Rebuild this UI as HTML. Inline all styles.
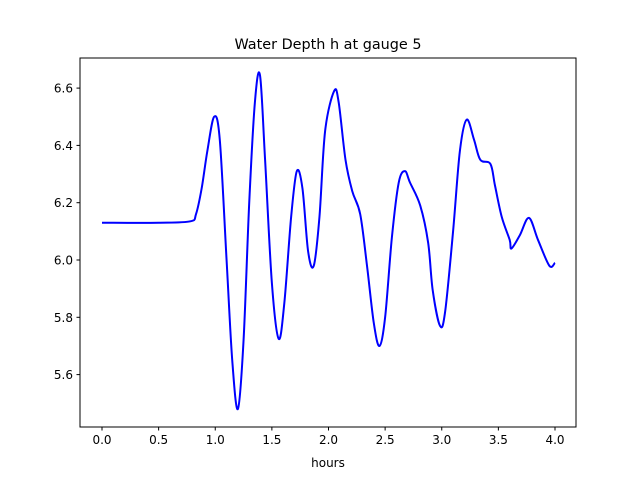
<!DOCTYPE html>
<html><head><meta charset="utf-8"><style>
body{margin:0;background:#fff;font-family:"Liberation Sans",sans-serif}
svg text{font-family:"DejaVu Sans","Liberation Sans",sans-serif}
</style></head><body>
<svg id="c" width="640" height="480">
<rect width="640" height="480" fill="#fff"/>
<text x="328" y="49" font-size="14.4" text-anchor="middle">Water Depth h at gauge 5</text>
<text x="328" y="467" font-size="12" text-anchor="middle">hours</text>
<g id="ticks"></g>
<path id="line" fill="none" stroke="#0000ff" stroke-width="2"/>
<rect x="80" y="58" width="496" height="369" fill="none" stroke="#000" stroke-width="1"/>
</svg>
<script>
const times=[0,0.5,0.78,0.83,0.88,0.93,0.99,1.04,1.1,1.15,1.2,1.25,1.3,1.35,1.395,1.44,1.5,1.56,1.61,1.67,1.72,1.77,1.82,1.87,1.92,1.97,2.05,2.09,2.15,2.21,2.28,2.34,2.4,2.45,2.5,2.56,2.62,2.675,2.72,2.81,2.88,2.92,2.985,3.03,3.1,3.16,3.22,3.285,3.34,3.43,3.47,3.53,3.6,3.615,3.69,3.77,3.85,3.95,4.0];
const depths=[6.13,6.13,6.135,6.16,6.25,6.38,6.50,6.42,6.0,5.65,5.48,5.72,6.2,6.55,6.645,6.35,5.92,5.725,5.85,6.15,6.31,6.25,6.03,5.98,6.15,6.45,6.59,6.55,6.35,6.24,6.16,5.98,5.78,5.70,5.80,6.08,6.27,6.31,6.27,6.19,6.06,5.895,5.77,5.82,6.1,6.38,6.49,6.42,6.35,6.335,6.26,6.15,6.07,6.04,6.087,6.147,6.07,5.98,5.99];
const xTicks=[0,0.5,1,1.5,2,2.5,3,3.5,4];
const yTicks=[5.6,5.8,6.0,6.2,6.4,6.6];
const X=t=>102+113.25*t, Y=v=>260-(v-6.0)*286.5;
const g=document.getElementById('ticks');const NS='http://www.w3.org/2000/svg';
function mk(tag,a){const e=document.createElementNS(NS,tag);for(const k in a)e.setAttribute(k,a[k]);g.appendChild(e);return e;}
xTicks.forEach(t=>{const l=mk('line',{x1:X(t),x2:X(t),y1:427,y2:430.5,stroke:'#000'});


const s=mk('text',{x:X(t),y:444,'font-size':12,'text-anchor':'middle'});s.textContent=t.toFixed(1);

});
yTicks.forEach(v=>{const l=mk('line',{x1:76.5,x2:80,y1:Y(v),y2:Y(v),stroke:'#000'});


const s=mk('text',{x:73,y:Y(v)+4.5,'font-size':12,'text-anchor':'end'});s.textContent=v.toFixed(1);

});
const P=times.map((t,i)=>[X(t),Y(depths[i])]);
let d='M'+P[0][0]+','+P[0][1];
for(let i=0;i<P.length-1;i++){const p0=P[Math.max(i-1,0)],p1=P[i],p2=P[i+1],p3=P[Math.min(i+2,P.length-1)];
const c1=[p1[0]+(p2[0]-p0[0])/6,p1[1]+(p2[1]-p0[1])/6],c2=[p2[0]-(p3[0]-p1[0])/6,p2[1]-(p3[1]-p1[1])/6];
d+=` C${c1[0]},${c1[1]} ${c2[0]},${c2[1]} ${p2[0]},${p2[1]}`;}
document.getElementById('line').setAttribute('d',d);
</script>
</body></html>
